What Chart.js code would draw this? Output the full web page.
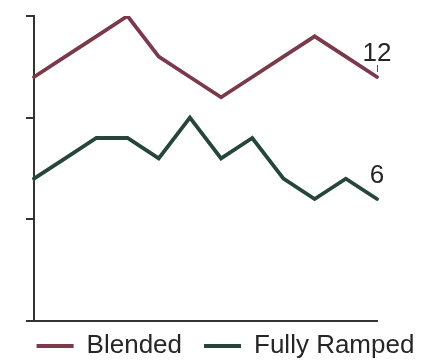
<!DOCTYPE html>
<html>
<head>
<meta charset="utf-8">
<script src="https://cdn.jsdelivr.net/npm/chart.js@4/dist/chart.umd.min.js"></script>
<style>
  html, body { margin: 0; padding: 0; background: #ffffff; }
  #wrap { width: 429px; height: 360px; }
</style>
</head>
<body>
<div id="wrap"><canvas id="chart" width="429" height="360"></canvas></div>
<script>
// Monthly values for the two series
const categories = ['Jan', 'Feb', 'Mar', 'Apr', 'May', 'Jun', 'Jul', 'Aug', 'Sep', 'Oct', 'Nov', 'Dec'];
const blended = [12, 13, 14, 15, 13, 12, 11, 12, 13, 14, 13, 12];
const fullyRamped = [7, 8, 9, 9, 8, 10, 8, 9, 7, 6, 7, 6];
const seriesNames = ['Blended', 'Fully Ramped'];
const yTicks = [0, 5, 10, 15];

const FONT = "'Liberation Sans', Arial, sans-serif";
const INK = '#262626';
const AXIS = '#333333';
const COLORS = ['#7a3a4a', '#27463a'];

// Writes the last value of each series above its final point
const endLabels = {
  id: 'endLabels',
  afterDatasetsDraw(chart) {
    const ctx = chart.ctx;
    chart.data.datasets.forEach((ds, i) => {
      const meta = chart.getDatasetMeta(i);
      if (meta.hidden) return;
      const last = meta.data[meta.data.length - 1];
      const value = ds.data[ds.data.length - 1];
      ctx.save();
      if (ds.endConnector) {
        ctx.strokeStyle = '#555';
        ctx.lineWidth = 1;
        ctx.beginPath();
        ctx.moveTo(Math.round(last.x) + 0.5, last.y - 12);
        ctx.lineTo(Math.round(last.x) + 0.5, last.y - 5);
        ctx.stroke();
      }
      ctx.font = '26px ' + FONT;
      ctx.fillStyle = INK;
      ctx.textAlign = 'center';
      ctx.textBaseline = 'alphabetic';
      ctx.fillText(String(value), last.x, last.y - 16);
      ctx.restore();
    });
  }
};

// Raises the legend row toward the axis and moves it slightly right
const legendNudge = {
  id: 'legendNudge',
  afterLayout(chart) {
    const lg = chart.legend;
    if (!lg) return;
    lg.top -= 10;
    lg.bottom = chart.height;
    lg.left += 11; lg.right += 11;
  }
};

new Chart(document.getElementById('chart'), {
  type: 'line',
  data: {
    labels: categories,
    datasets: [
      {
        label: seriesNames[0],
        data: blended,
        borderColor: COLORS[0],
        backgroundColor: COLORS[0],
        borderWidth: 3.8,
        borderCapStyle: 'round',
        pointRadius: 0,
        tension: 0,
        endConnector: true
      },
      {
        label: seriesNames[1],
        data: fullyRamped,
        borderColor: COLORS[1],
        backgroundColor: COLORS[1],
        borderWidth: 3.8,
        borderCapStyle: 'round',
        pointRadius: 0,
        tension: 0
      }
    ]
  },
  options: {
    responsive: false,
    animation: false,
    layout: { padding: { top: 16, left: 0, right: 0, bottom: 0 } },
    plugins: {
      tooltip: { enabled: false },
      legend: {
        position: 'bottom',
        maxHeight: 39,
        labels: {
          usePointStyle: true,
          pointStyle: 'line',
          pointStyleWidth: 37,
          padding: 22,
          color: INK,
          font: { family: FONT, size: 26 }
        }
      }
    },
    scales: {
      x: {
        type: 'category',
        offset: false,
        ticks: { display: false },
        grid: { display: false },
        border: { display: true, color: AXIS, width: 2 },
        afterFit(scale) { scale.height = 0; }
      },
      y: {
        position: 'left',
        min: yTicks[0],
        max: yTicks[yTicks.length - 1],
        afterBuildTicks(scale) { scale.ticks = yTicks.map(v => ({ value: v })); },
        ticks: { display: false },
        grid: {
          drawOnChartArea: false,
          drawTicks: true,
          tickLength: 8,
          color: AXIS,
          lineWidth: 2
        },
        border: { display: true, color: AXIS, width: 2 },
        afterFit(scale) { scale.width = 34; }
      },
      yRight: {
        position: 'right',
        min: yTicks[0],
        max: yTicks[yTicks.length - 1],
        ticks: { display: false },
        grid: { display: false },
        border: { display: false },
        afterFit(scale) { scale.width = 52; }
      }
    }
  },
  plugins: [endLabels, legendNudge]
});
</script>
</body>
</html>
